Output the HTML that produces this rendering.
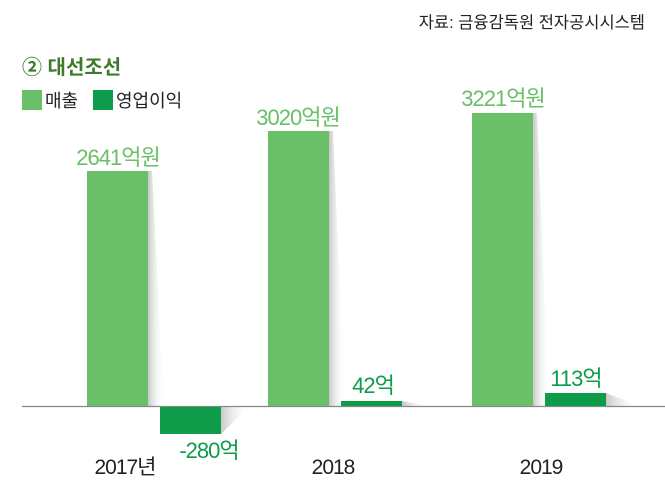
<!DOCTYPE html>
<html><head><meta charset="utf-8"><style>
html,body{margin:0;padding:0;background:#fff;}
svg{display:block;font-family:"Liberation Sans","Noto Sans CJK KR",sans-serif;}
</style></head><body>
<svg width="665" height="496" viewBox="0 0 665 496" xmlns="http://www.w3.org/2000/svg">
<defs>
<linearGradient id="sh" x1="0" x2="1" y1="0" y2="0">
<stop offset="0" stop-color="#c8c8c8"/><stop offset="1" stop-color="#fff" stop-opacity="0"/>
</linearGradient>
</defs>
<text x="645" y="28" text-anchor="end" font-size="16.5" fill="#222">자료: 금융감독원 전자공시시스템</text>
<text x="22" y="74" font-size="20" font-weight="bold" fill="#3d7a2b">② 대선조선</text>
<rect x="22" y="90" width="20" height="20" fill="#6abf69"/>
<text x="45" y="107" font-size="18" fill="#222">매출</text>
<rect x="93" y="90" width="20" height="20" fill="#0e9c4a"/>
<text x="116" y="107" font-size="18" fill="#222">영업이익</text>

<polygon points="148,171 152,171 164,406 148,406" fill="url(#sh)"/>
<polygon points="329,131 333,131 345,406 329,406" fill="url(#sh)"/>
<polygon points="533,113 537,113 549,406 533,406" fill="url(#sh)"/>
<polygon points="221,406 250,406 221,434" fill="url(#sh)"/>
<polygon points="402,401 430,406 402,406" fill="url(#sh)"/>
<polygon points="606,393 640,406 606,406" fill="url(#sh)"/>

<line x1="22" y1="406.5" x2="665" y2="406.5" stroke="#888" stroke-width="1.2"/>

<rect x="87" y="171" width="61" height="235" fill="#6abf69"/>
<rect x="268" y="131" width="61" height="275" fill="#6abf69"/>
<rect x="472" y="113" width="61" height="293" fill="#6abf69"/>
<rect x="160" y="407" width="61" height="27" fill="#0e9c4a"/>
<rect x="341" y="401" width="61" height="5" fill="#0e9c4a"/>
<rect x="545" y="393" width="61" height="13" fill="#0e9c4a"/>

<g font-size="22" fill="#6abf69" text-anchor="middle" letter-spacing="-1">
<text x="118" y="165">2641억원</text>
<text x="298" y="125">3020억원</text>
<text x="503" y="106">3221억원</text>
</g>
<g font-size="22" fill="#0e9c4a" text-anchor="middle" letter-spacing="-1">
<text x="209" y="458">-280억</text>
<text x="373" y="393">42억</text>
<text x="576" y="386">113억</text>
</g>
<g font-size="21" fill="#222" text-anchor="middle" letter-spacing="-1">
<text x="125" y="474">2017년</text>
<text x="333" y="474">2018</text>
<text x="541" y="474">2019</text>
</g>
</svg>
</body></html>
